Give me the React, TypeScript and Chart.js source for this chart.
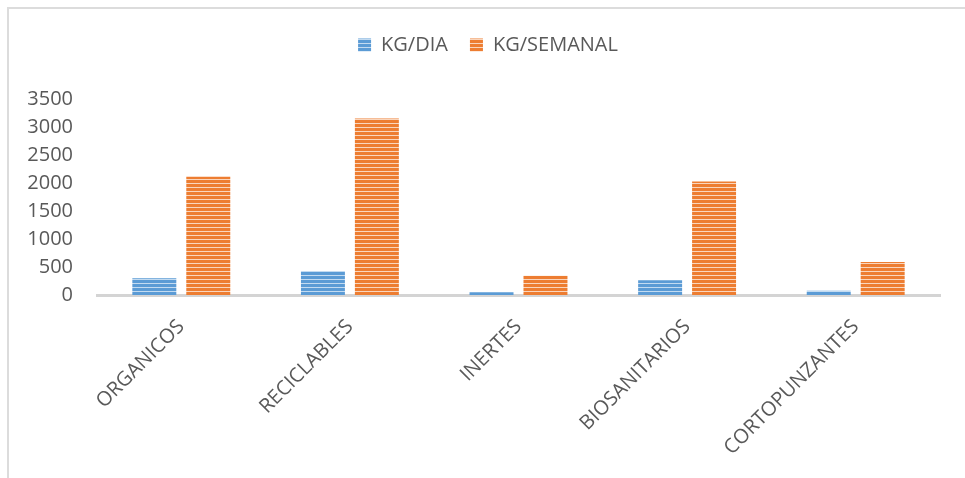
import React, { useEffect, useRef } from "react";
import { Chart, registerables } from "chart.js";

Chart.register(...registerables);

const categories = ["ORGANICOS", "RECICLABLES", "INERTES", "BIOSANITARIOS", "CORTOPUNZANTES"];
const kgDia = [300, 430, 48, 265, 77];
const kgSemanal = [2110, 3150, 345, 2025, 590];
const seriesNames = ["KG/DIA", "KG/SEMANAL"];
const yMin = 0;
const yMax = 3500;
const yStep = 500;

const FONT = "'Open Sans', sans-serif";
const TEXT = "#595959";

function stripePattern(ctx: CanvasRenderingContext2D, base: string, light: string) {
  const c = document.createElement("canvas");
  c.width = 4;
  c.height = 4;
  const p = c.getContext("2d")!;
  p.fillStyle = base;
  p.fillRect(0, 0, 4, 4);
  p.fillStyle = light;
  p.fillRect(0, 3, 4, 1);
  return ctx.createPattern(c, "repeat")!;
}

export default function App() {
  const ref = useRef<HTMLCanvasElement | null>(null);

  useEffect(() => {
    const canvas = ref.current!;
    const ctx = canvas.getContext("2d")!;
    const blue = stripePattern(ctx, "#5b9bd5", "#c3dbf1");
    const orange = stripePattern(ctx, "#ed7d31", "#fad6bd");

    const legendMargin = {
      id: "legendMargin",
      beforeInit(chart: any) {
        const orig = chart.legend.fit;
        chart.legend.fit = function fit() {
          orig.bind(chart.legend)();
          this.height += 34;
        };
      },
      afterLayout(chart: any) {
        chart.legend.left += 18;
        chart.legend.right += 18;
      },
    };

    const chart = new Chart(canvas, {
      type: "bar",
      data: {
        labels: categories,
        datasets: [
          { label: seriesNames[0], data: kgDia, backgroundColor: blue, borderWidth: 0 },
          { label: seriesNames[1], data: kgSemanal, backgroundColor: orange, borderWidth: 0 },
        ],
      },
      options: {
        responsive: false,
        animation: false,
        devicePixelRatio: 1,
        layout: { padding: { top: 13, left: 0, right: 25, bottom: 0 } },
        datasets: {
          bar: { categoryPercentage: 0.64, barPercentage: 0.815 },
        },
        plugins: {
          tooltip: { enabled: false },
          legend: {
            position: "top",
            labels: {
              font: { family: FONT, size: 20 },
              color: TEXT,
              boxWidth: 13,
              boxHeight: 13,
              padding: 22,
            },
          },
        },
        scales: {
          x: {
            grid: { display: false },
            border: { display: true, color: "#d4d4d4", width: 3 },
            ticks: {
              font: { family: FONT, size: 20 },
              color: TEXT,
              maxRotation: 45,
              minRotation: 45,
              autoSkip: false,
              padding: 12,
            },
            afterFit(scale: any) {
              scale.height = 183;
            },
          },
          y: {
            min: yMin,
            max: yMax,
            grid: { display: false, drawTicks: false },
            border: { display: false },
            ticks: {
              stepSize: yStep,
              font: { family: FONT, size: 20 },
              color: TEXT,
              padding: 24,
              callback: (v: any) => String(v),
            },
            afterFit(scale: any) {
              scale.width = 97;
            },
          },
        },
      },
      plugins: [legendMargin],
    });
    return () => chart.destroy();
  }, []);

  return (
    <>
      <div
        style={{
          position: "absolute",
          left: 7,
          top: 7,
          width: 958,
          height: 471,
          boxSizing: "border-box",
          borderTop: "2px solid #dcdcdc",
          borderLeft: "2px solid #dcdcdc",
        }}
      />
      <canvas
        ref={ref}
        width={965}
        height={478}
        style={{ position: "absolute", left: 0, top: 0, width: 965, height: 478 }}
      />
    </>
  );
}
